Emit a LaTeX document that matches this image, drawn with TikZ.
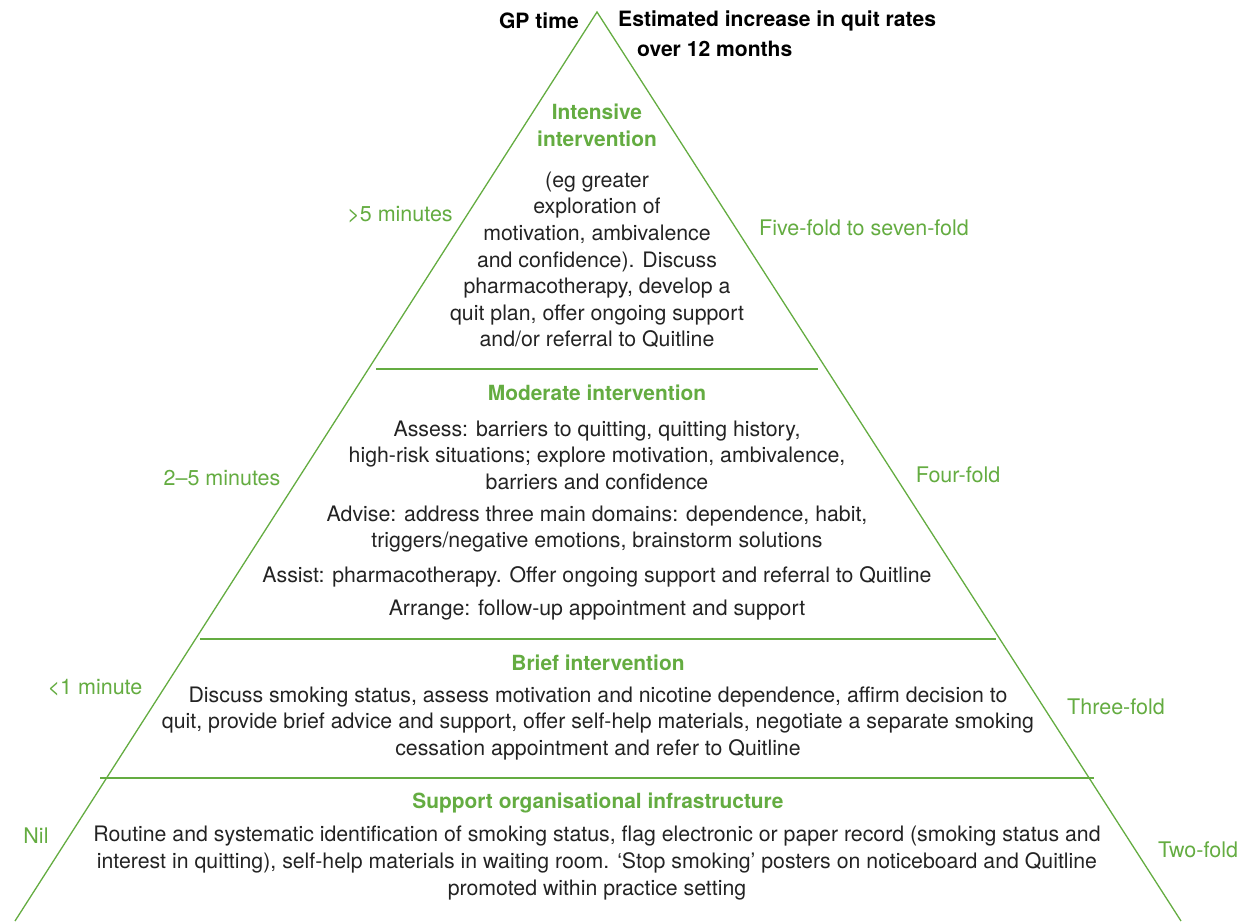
\documentclass[tikz,border=0pt]{standalone}
\usepackage{fontspec}
\setmainfont{TeX Gyre Heros}
\definecolor{leaf}{RGB}{100,172,65}
\definecolor{ink}{RGB}{35,35,35}
\begin{document}
\begin{tikzpicture}[x=1pt,y=-1pt,
  body/.style={font=\fontsize{21.3}{26.6}\selectfont, text=ink, align=center, inner sep=0pt},
  head/.style={font=\fontsize{20.9}{27}\selectfont\bfseries, text=leaf, align=center, inner sep=0pt},
  side/.style={font=\fontsize{21.5}{26.6}\selectfont, text=leaf, inner sep=0pt},
  toplabel/.style={font=\fontsize{21.1}{28}\selectfont\bfseries, text=black, inner sep=0pt},
  rule/.style={draw=leaf, line width=1.3pt}]
\useasboundingbox (0,0) rectangle (1252,921);

% pyramid outline
\coordinate (apex) at (597,12);
\coordinate (bl) at (15,921);
\coordinate (br) at (1181,921);
\draw[rule] (bl) -- (apex) -- (br);

% tier dividers
\coordinate (d1l) at (376,369);  \coordinate (d1r) at (818,369);
\coordinate (d2l) at (200,639);  \coordinate (d2r) at (996,639);
\coordinate (d3l) at (100,778);  \coordinate (d3r) at (1094,778);
\draw[rule] (d1l) -- (d1r);
\draw[rule] (d2l) -- (d2r);
\draw[rule] (d3l) -- (d3r);

% column headings
\node[toplabel, anchor=east] (gp) at (579,21) {GP time};
\node[toplabel, anchor=west] (est1) at (618,21) {Estimated increase in quit rates};
\node[toplabel, anchor=west] (est2) at (637,49) {over 12 months};

% intensive tier
\node[head] (t1) at (597,125.5) {Intensive\\intervention};
\node[body] (b1) at (597,260) {(eg greater\\exploration of\\motivation, ambivalence\\and confidence). Discuss\\pharmacotherapy, develop a\\quit plan, offer ongoing support\\and/or referral to Quitline};
\node[side] (l1) at (400,215) {>5 minutes};
\node[side] (r1) at (864,228) {Five-fold to seven-fold};

% moderate tier
\node[head] (t2) at (597,393) {Moderate intervention};
\node[body] (b2a) at (597,455) {Assess: barriers to quitting, quitting history,\\high-risk situations; explore motivation, ambivalence,\\barriers and confidence};
\node[body] (b2b) at (597,529) {Advise: address three main domains: dependence, habit,\\triggers/negative emotions, brainstorm solutions};
\node[body] (b2c) at (597,577) {Assist: pharmacotherapy. Offer ongoing support and referral to Quitline};
\node[body] (b2d) at (597,610) {Arrange: follow-up appointment and support};
\node[side] (l2) at (222,478) {2–5 minutes};
\node[side] (r2) at (958,475) {Four-fold};

% brief tier
\node[head] (t3) at (598,663) {Brief intervention};
\node[body] (b3) at (598,723.5) {Discuss smoking status, assess motivation and nicotine dependence, affirm decision to\\quit, provide brief advice and support, offer self-help materials, negotiate a separate smoking\\cessation appointment and refer to Quitline};
\node[side] (l3) at (95,688) {<1 minute};
\node[side] (r3) at (1116,707) {Three-fold};

% organisational tier
\node[head] (t4) at (598,803) {Support organisational infrastructure};
\node[body] (b4) at (597,863) {Routine and systematic identification of smoking status, flag electronic or paper record (smoking status and\\interest in quitting), self-help materials in waiting room. ‘Stop smoking’ posters on noticeboard and Quitline\\promoted within practice setting};
\node[side] (l4) at (36,836) {Nil};
\node[side] (r4) at (1198,850) {Two-fold};
\end{tikzpicture}
\end{document}
